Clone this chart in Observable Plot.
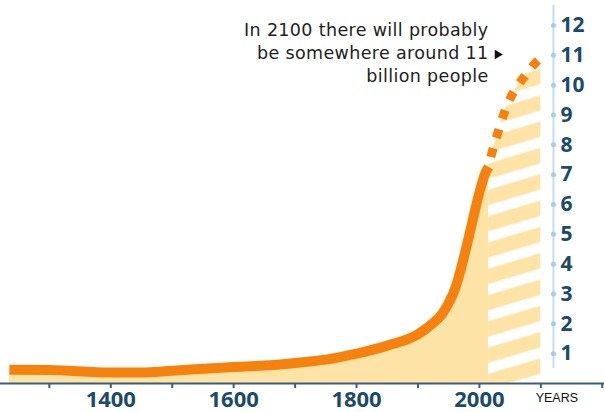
<!DOCTYPE html>
<html><head><meta charset="utf-8">
<script src="https://cdn.jsdelivr.net/npm/d3@7"></script>
<script src="https://cdn.jsdelivr.net/npm/@observablehq/plot@0.6"></script>
<style>
html,body{margin:0;padding:0;background:#fff;}
#chart{width:604px;height:412px;overflow:hidden;}
.annot text{letter-spacing:0.35px;}
</style></head><body><div id="chart"></div>
<script>
// Historical world population (billions)
const histYears = [1235,1300,1400,1450,1500,1600,1650,1700,1750,1800,1850,1900,1920,1940,1950,1960,1970,1980,1990,2000,2010,2015];
const histPop   = [0.46,0.45,0.37,0.37,0.43,0.55,0.60,0.69,0.80,1.00,1.27,1.65,1.95,2.35,2.70,3.15,3.85,4.67,5.55,6.40,7.07,7.26];
// Projection (dashed, hatched)
const projYears = [2015,2020,2030,2040,2050,2060,2070,2080,2090,2100];
const projPop   = [7.26,7.70,8.40,9.05,9.55,9.90,10.20,10.47,10.72,10.92];
// Axes
const xTicks = [1300,1400,1500,1600,1700,1800,1900,2000,2100,2200];
const xTickLabels = [1400,1600,1800,2000];
const yearsLabel = "YEARS";
const yearsLabelAt = 2100;
const yTicks = [1,2,3,4,5,6,7,8,9,10,11,12];
const rightAxisYear = 2120.5;
// Annotation
const annotationLines = ["In 2100 there will probably","be somewhere around 11","billion people"];
const annotationAt = {year: 2014.8, pop: 12.18};
const pointerAt = {year: 2029.4, pop: 11.03};

const hist = histYears.map((year, i) => ({year, pop: histPop[i]}));
const proj = projYears.map((year, i) => ({year, pop: projPop[i]}));

const navy = "#1b4a6b";
const orange = "#f5820f";
const pale = "#fde4a6";

const chart = Plot.plot({
  width: 604, height: 412,
  marginLeft: 0, marginRight: 0, marginTop: 5, marginBottom: 29,
  x: {domain: [1220.5, 2203.6], axis: null},
  y: {domain: [0, 12.67], axis: null},
  style: {background: "#fff", fontFamily: "'Open Sans', sans-serif", overflow: "visible"},
  marks: [
    Plot.areaY(hist, {x: "year", y: "pop", fill: pale, curve: "monotone-x"}),
    Plot.areaY(proj, {x: "year", y: "pop", fill: "url(#hatch)", curve: "monotone-x"}),
    Plot.ruleX([rightAxisYear], {x: d => d, y1: 0.5, y2: 12.67, stroke: "#c5dcf1", strokeWidth: 2}),
    Plot.dot(yTicks, {x: () => rightAxisYear, y: d => d, r: 2.5, fill: "#a9cbea", stroke: "none"}),
    Plot.text(yTicks, {x: () => rightAxisYear, y: d => d, text: d => String(d), dx: 7, textAnchor: "start",
      fontSize: 21, fontWeight: 700, fill: navy, fontFamily: "'Open Sans', sans-serif"}),
    Plot.ruleY([0], {stroke: "#3a5d7c", strokeWidth: 2}),
    Plot.axisX(xTicks, {tickSize: 5, tickPadding: 3, stroke: "#3a5d7c", strokeWidth: 2,
      tickFormat: d => xTickLabels.includes(d) ? String(d) : "",
      fill: navy, fontSize: 22, fontWeight: 700, label: null, fontFamily: "'Open Sans', sans-serif"}),
    Plot.text([yearsLabel], {x: () => yearsLabelAt, y: () => 0, text: d => d, dx: 16, dy: 10, lineAnchor: "top",
      fontSize: 12.5, fontFamily: "'Liberation Sans', Arial, sans-serif", fill: "#111"}),
    Plot.line(hist, {x: "year", y: "pop", stroke: orange, strokeWidth: 10, curve: "monotone-x",
      strokeLinecap: "butt", strokeLinejoin: "round"}),
    Plot.line(proj, {x: "year", y: "pop", stroke: orange, strokeWidth: 9, curve: "monotone-x",
      strokeDasharray: "9,11", strokeDashoffset: 10, strokeLinecap: "butt"}),
    Plot.text([annotationLines.join("\n")], {x: () => annotationAt.year, y: () => annotationAt.pop, text: d => d,
      textAnchor: "end", lineAnchor: "top", lineHeight: 1.3, fontSize: 17.5, className: "annot",
      fontFamily: "'DejaVu Sans', sans-serif", fill: "#222"}),
    Plot.dot([pointerAt], {x: d => d.year, y: d => d.pop, symbol: "triangle", r: 3.5, rotate: 90, fill: "#111", stroke: "none"})
  ]
});

// hatch pattern for the projection area
const svg = d3.select(chart);
const defs = svg.insert("defs", ":first-child");
const pat = defs.append("pattern").attr("id", "hatch").attr("patternUnits", "userSpaceOnUse")
  .attr("width", 40).attr("height", 25.2).attr("patternTransform", "rotate(-16.7)");
pat.append("rect").attr("width", 40).attr("height", 25.2).attr("fill", pale);
pat.append("rect").attr("y", 9.2).attr("width", 40).attr("height", 10.5).attr("fill", "#fff");

document.getElementById("chart").appendChild(chart);
</script>
</body></html>
